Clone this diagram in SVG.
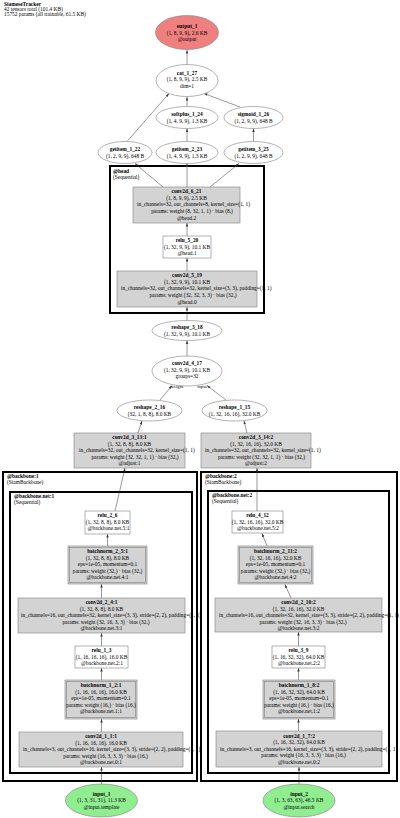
<svg xmlns="http://www.w3.org/2000/svg" width="400" height="818" viewBox="0 0 400 818">
<style>
text{font-family:"Liberation Serif","Times New Roman",serif;font-size:5.4px;fill:#000}
.b{font-weight:bold}
.m{text-anchor:middle}
.el{fill:#fff;stroke:#808080;stroke-width:0.6}
.bx{fill:#fff;stroke:#808080;stroke-width:0.6}
.g{fill:#d3d3d3}
.in{fill:none;stroke:#808080;stroke-width:0.6}
.cl{fill:none;stroke:#000;stroke-width:2}
.e{stroke:#333;stroke-width:0.5;fill:none;marker-end:url(#ah)}
.lbl{font-size:4.6px;text-anchor:middle}
</style>
<defs>
<marker id="ah" markerUnits="userSpaceOnUse" markerWidth="4" markerHeight="3" refX="3.5" refY="1.2" orient="auto"><path d="M0,0 L3.5,1.2 L0,2.4 z" fill="#333"/></marker>
</defs>
<rect width="400" height="818" fill="#fff"/>
<g id="title">
<text class="b" x="4" y="6">SiameseTracker</text>
<text x="4" y="11">42 tensors total (101.4 KB)</text>
<text x="4" y="16">15752 params (all trainable, 61.5 KB)</text>
</g>
<g id="clusters">
<rect class="cl" x="110" y="166" width="154" height="147"/>
<text class="b" x="113" y="173">@head</text>
<text x="113" y="178.5">(Sequential)</text>
<rect class="cl" x="3" y="472" width="194" height="309"/>
<text class="b" x="7" y="478">@backbone:1</text>
<text x="7" y="483.5">(SiamBackbone)</text>
<rect class="cl" x="10" y="492" width="182" height="281"/>
<text class="b" x="14" y="498">@backbone.net:1</text>
<text x="14" y="503.5">(Sequential)</text>
<rect class="cl" x="201" y="472" width="196" height="309"/>
<text class="b" x="205" y="478">@backbone:2</text>
<text x="205" y="483.5">(SiamBackbone)</text>
<rect class="cl" x="208" y="491" width="181" height="282"/>
<text class="b" x="212" y="497">@backbone.net:2</text>
<text x="212" y="502.5">(Sequential)</text>
</g>
<g id="edges">
<line class="e" x1="187" y1="64.5" x2="187" y2="50"/>
<line class="e" x1="187" y1="106.5" x2="187" y2="97"/>
<line class="e" x1="127" y1="141.5" x2="169" y2="93.5"/>
<line class="e" x1="240" y1="107" x2="204" y2="93.5"/>
<line class="e" x1="187" y1="141.5" x2="187" y2="128.5"/>
<line class="e" x1="253.5" y1="141.5" x2="253.5" y2="128.5"/>
<line class="e" x1="163" y1="187" x2="135" y2="163.5"/>
<line class="e" x1="187" y1="187" x2="187" y2="163.5"/>
<line class="e" x1="210" y1="187" x2="239" y2="163.5"/>
<line class="e" x1="187" y1="236" x2="187" y2="223"/>
<line class="e" x1="187" y1="271" x2="187" y2="258"/>
<line class="e" x1="187" y1="320.5" x2="187" y2="307"/>
<line class="e" x1="187" y1="356" x2="187" y2="340.5"/>
<line class="e" x1="160" y1="400" x2="172" y2="385.5"/>
<line class="e" x1="226" y1="400" x2="207" y2="385.5"/>
<text class="lbl" x="177" y="387.5">weight</text>
<text class="lbl" x="202" y="387.5">input</text>
<line class="e" x1="138" y1="433" x2="142" y2="421"/>
<line class="e" x1="247" y1="433" x2="244" y2="421"/>
<line class="e" x1="115" y1="511" x2="125" y2="468"/>
<line class="e" x1="257" y1="511" x2="257" y2="468"/>
<line class="e" x1="107.5" y1="546" x2="107.5" y2="534"/>
<line class="e" x1="267" y1="546" x2="262" y2="533.5"/>
<line class="e" x1="101.5" y1="598" x2="101.5" y2="584"/>
<line class="e" x1="291" y1="598" x2="285" y2="584.5"/>
<line class="e" x1="101.5" y1="646" x2="101.5" y2="633"/>
<line class="e" x1="298.5" y1="646" x2="298.5" y2="632"/>
<line class="e" x1="101.5" y1="680" x2="101.5" y2="668"/>
<line class="e" x1="298.5" y1="680" x2="298.5" y2="668"/>
<line class="e" x1="101.5" y1="732" x2="101.5" y2="719"/>
<line class="e" x1="298.5" y1="731" x2="298.5" y2="719"/>
<line class="e" x1="101.5" y1="784" x2="101.5" y2="767"/>
<line class="e" x1="299" y1="784" x2="299" y2="767"/>
</g>
<g id="output_1">
<ellipse class="el" cx="187" cy="32.5" rx="31.5" ry="17" style="fill:#f08080"/>
<text class="m b" x="187" y="28">output_1</text>
<text class="m" x="187" y="34.5">(1, 8, 9, 9), 2.6 KB</text>
<text class="m" x="187" y="41">@output</text>
</g>
<g id="cat_1_27">
<ellipse class="el" cx="187" cy="80.5" rx="31" ry="16"/>
<text class="m b" x="187" y="74.5">cat_1_27</text>
<text class="m" x="187" y="81">(1, 8, 9, 9), 2.5 KB</text>
<text class="m" x="187" y="87.5">dim=1</text>
</g>
<g id="softplus_1_24">
<ellipse class="el" cx="187" cy="117.5" rx="31" ry="11"/>
<text class="m b" x="187" y="116.2">softplus_1_24</text>
<text class="m" x="187" y="122.7">(1, 4, 9, 9), 1.3 KB</text>
</g>
<g id="sigmoid_1_26">
<ellipse class="el" cx="253.5" cy="117.5" rx="29.5" ry="11"/>
<text class="m b" x="253.5" y="116.2">sigmoid_1_26</text>
<text class="m" x="253.5" y="122.7">(1, 2, 9, 9), 648 B</text>
</g>
<g id="getitem_1_22">
<ellipse class="el" cx="125" cy="152.5" rx="27" ry="11"/>
<text class="m b" x="125" y="151.2">getitem_1_22</text>
<text class="m" x="125" y="157.7">(1, 2, 9, 9), 648 B</text>
</g>
<g id="getitem_2_23">
<ellipse class="el" cx="187" cy="152.5" rx="31" ry="11"/>
<text class="m b" x="187" y="151.2">getitem_2_23</text>
<text class="m" x="187" y="157.7">(1, 4, 9, 9), 1.3 KB</text>
</g>
<g id="getitem_3_25">
<ellipse class="el" cx="253.5" cy="152.5" rx="29.5" ry="11"/>
<text class="m b" x="253.5" y="151.2">getitem_3_25</text>
<text class="m" x="253.5" y="157.7">(1, 2, 9, 9), 648 B</text>
</g>
<g id="conv2d_6_21">
<rect class="bx g" x="133" y="187" width="107" height="36"/>
<text class="m b" x="186.5" y="193.2">conv2d_6_21</text>
<text class="m" x="186.5" y="199.8">(1, 8, 9, 9), 2.5 KB</text>
<text x="137" y="206.4">in_channels=32, out_channels=8, kernel_size=(1, 1)</text>
<text class="m" x="192" y="213">params: weight (8, 32, 1, 1) · bias (8,)</text>
<text class="m" x="186.5" y="219.6">@head.2</text>
</g>
<g id="relu_5_20">
<rect class="bx" x="163" y="236" width="48" height="22"/>
<text class="m b" x="187" y="242">relu_5_20</text>
<text class="m" x="187" y="248.5">(1, 32, 9, 9), 10.1 KB</text>
<text class="m" x="187" y="255">@head.1</text>
</g>
<g id="conv2d_5_19">
<rect class="bx g" x="117" y="271" width="140" height="36"/>
<text class="m b" x="187" y="277.2">conv2d_5_19</text>
<text class="m" x="187" y="283.8">(1, 32, 9, 9), 10.1 KB</text>
<text x="121" y="290.4">in_channels=32, out_channels=32, kernel_size=(3, 3), padding=(1, 1)</text>
<text class="m" x="193" y="297">params: weight (32, 32, 3, 3) · bias (32,)</text>
<text class="m" x="187" y="303.6">@head.0</text>
</g>
<g id="reshape_3_18">
<ellipse class="el" cx="187" cy="330.5" rx="35" ry="10"/>
<text class="m b" x="187" y="329.2">reshape_3_18</text>
<text class="m" x="187" y="335.7">(1, 32, 9, 9), 10.1 KB</text>
</g>
<g id="conv2d_4_17">
<ellipse class="el" cx="187" cy="371" rx="35" ry="15"/>
<text class="m b" x="187" y="365.3">conv2d_4_17</text>
<text class="m" x="187" y="371.8">(1, 32, 9, 9), 10.1 KB</text>
<text class="m" x="187" y="378.3">groups=32</text>
</g>
<g id="reshape_2_16">
<ellipse class="el" cx="149.5" cy="410.5" rx="32.5" ry="10.5"/>
<text class="m b" x="149.5" y="409.2">reshape_2_16</text>
<text class="m" x="149.5" y="415.7">(32, 1, 8, 8), 8.0 KB</text>
</g>
<g id="reshape_1_15">
<ellipse class="el" cx="234.5" cy="410.5" rx="32.5" ry="10.5"/>
<text class="m b" x="234.5" y="409.2">reshape_1_15</text>
<text class="m" x="234.5" y="415.7">(1, 32, 16, 16), 32.0 KB</text>
</g>
<g id="conv2d_3_13_1">
<rect class="bx g" x="74" y="433" width="111" height="35"/>
<text class="m b" x="129.5" y="439">conv2d_3_13:1</text>
<text class="m" x="129.5" y="445.5">(1, 32, 8, 8), 8.0 KB</text>
<text x="79" y="452">in_channels=32, out_channels=32, kernel_size=(1, 1)</text>
<text class="m" x="135" y="458.5">params: weight (32, 32, 1, 1) · bias (32,)</text>
<text class="m" x="129.5" y="465">@adjust:1</text>
</g>
<g id="conv2d_3_14_2">
<rect class="bx g" x="201" y="433" width="110" height="35"/>
<text class="m b" x="256" y="439">conv2d_3_14:2</text>
<text class="m" x="256" y="445.5">(1, 32, 16, 16), 32.0 KB</text>
<text x="205" y="452">in_channels=32, out_channels=32, kernel_size=(1, 1)</text>
<text class="m" x="261.5" y="458.5">params: weight (32, 32, 1, 1) · bias (32,)</text>
<text class="m" x="256" y="465">@adjust:2</text>
</g>
<g id="relu_2_6">
<rect class="bx" x="85" y="511" width="45" height="23"/>
<text class="m b" x="107.5" y="517">relu_2_6</text>
<text class="m" x="107.5" y="523.5">(1, 32, 8, 8), 8.0 KB</text>
<text class="m" x="108.5" y="530">@backbone.net.5:1</text>
</g>
<g id="relu_4_12">
<rect class="bx" x="232" y="511" width="51" height="22"/>
<text class="m b" x="257.5" y="517">relu_4_12</text>
<text class="m" x="257.5" y="523.5">(1, 32, 16, 16), 32.0 KB</text>
<text class="m" x="258" y="530">@backbone.net.5:2</text>
</g>
<g id="batchnorm_2_5_1">
<rect class="bx g" x="68" y="546" width="79" height="38"/>
<rect class="in" x="69.5" y="547.5" width="76" height="35"/>
<text class="m b" x="107.5" y="553">batchnorm_2_5:1</text>
<text class="m" x="107.5" y="559.5">(1, 32, 8, 8), 8.0 KB</text>
<text class="m" x="107.5" y="566">eps=1e-05, momentum=0.1</text>
<text class="m" x="107.5" y="572.5">params: weight (32,) · bias (32,)</text>
<text class="m" x="107.5" y="579">@backbone.net.4:1</text>
</g>
<g id="batchnorm_2_11_2">
<rect class="bx g" x="238" y="546" width="75" height="38"/>
<rect class="in" x="239.5" y="547.5" width="72" height="35"/>
<text class="m b" x="275.5" y="553">batchnorm_2_11:2</text>
<text class="m" x="275.5" y="559.5">(1, 32, 16, 16), 32.0 KB</text>
<text class="m" x="275.5" y="566">eps=1e-05, momentum=0.1</text>
<text class="m" x="275.5" y="572.5">params: weight (32,) · bias (32,)</text>
<text class="m" x="275.5" y="579">@backbone.net.4:2</text>
</g>
<g id="conv2d_2_4_1">
<rect class="bx g" x="18" y="598" width="167" height="35"/>
<text class="m b" x="101.5" y="604">conv2d_2_4:1</text>
<text class="m" x="101.5" y="610.5">(1, 32, 8, 8), 8.0 KB</text>
<text x="21" y="617">in_channels=16, out_channels=32, kernel_size=(3, 3), stride=(2, 2), padding=(1, 1)</text>
<text class="m" x="106" y="623.5">params: weight (32, 16, 3, 3) · bias (32,)</text>
<text class="m" x="101.5" y="630">@backbone.net.3:1</text>
</g>
<g id="conv2d_2_10_2">
<rect class="bx g" x="215" y="598" width="167" height="34"/>
<text class="m b" x="298.5" y="604">conv2d_2_10:2</text>
<text class="m" x="298.5" y="610.5">(1, 32, 16, 16), 32.0 KB</text>
<text x="219" y="617">in_channels=16, out_channels=32, kernel_size=(3, 3), stride=(2, 2), padding=(1, 1)</text>
<text class="m" x="303" y="623.5">params: weight (32, 16, 3, 3) · bias (32,)</text>
<text class="m" x="298.5" y="630">@backbone.net.3:2</text>
</g>
<g id="relu_1_3">
<rect class="bx" x="75" y="646" width="53" height="22"/>
<text class="m b" x="101.5" y="652">relu_1_3</text>
<text class="m" x="101.5" y="658.5">(1, 16, 16, 16), 16.0 KB</text>
<text class="m" x="102" y="665">@backbone.net.2:1</text>
</g>
<g id="relu_3_9">
<rect class="bx" x="272" y="646" width="53" height="22"/>
<text class="m b" x="298.5" y="652">relu_3_9</text>
<text class="m" x="298.5" y="658.5">(1, 16, 32, 32), 64.0 KB</text>
<text class="m" x="299" y="665">@backbone.net.2:2</text>
</g>
<g id="batchnorm_1_2_1">
<rect class="bx g" x="65" y="680" width="72" height="39"/>
<rect class="in" x="66.5" y="681.5" width="69" height="36"/>
<text class="m b" x="101" y="687">batchnorm_1_2:1</text>
<text class="m" x="101" y="693.5">(1, 16, 16, 16), 16.0 KB</text>
<text class="m" x="101" y="700">eps=1e-05, momentum=0.1</text>
<text class="m" x="101" y="706.5">params: weight (16,) · bias (16,)</text>
<text class="m" x="101" y="713">@backbone.net.1:1</text>
</g>
<g id="batchnorm_1_8_2">
<rect class="bx g" x="263" y="680" width="72" height="39"/>
<rect class="in" x="264.5" y="681.5" width="69" height="36"/>
<text class="m b" x="299" y="687">batchnorm_1_8:2</text>
<text class="m" x="299" y="693.5">(1, 16, 32, 32), 64.0 KB</text>
<text class="m" x="299" y="700">eps=1e-05, momentum=0.1</text>
<text class="m" x="299" y="706.5">params: weight (16,) · bias (16,)</text>
<text class="m" x="299" y="713">@backbone.net.1:2</text>
</g>
<g id="conv2d_1_1_1">
<rect class="bx g" x="19" y="732" width="164" height="35"/>
<text class="m b" x="101" y="738">conv2d_1_1:1</text>
<text class="m" x="101" y="744.5">(1, 16, 16, 16), 16.0 KB</text>
<text x="23" y="751">in_channels=3, out_channels=16, kernel_size=(3, 3), stride=(2, 2), padding=(1, 1)</text>
<text class="m" x="105.5" y="757.5">params: weight (16, 3, 3, 3) · bias (16,)</text>
<text class="m" x="101" y="764">@backbone.net.0:1</text>
</g>
<g id="conv2d_1_7_2">
<rect class="bx g" x="216" y="731" width="166" height="36"/>
<text class="m b" x="299" y="737.5">conv2d_1_7:2</text>
<text class="m" x="299" y="744">(1, 16, 32, 32), 64.0 KB</text>
<text x="220" y="750.5">in_channels=3, out_channels=16, kernel_size=(3, 3), stride=(2, 2), padding=(1, 1)</text>
<text class="m" x="303.5" y="757">params: weight (16, 3, 3, 3) · bias (16,)</text>
<text class="m" x="299" y="763.5">@backbone.net.0:2</text>
</g>
<g id="input_1">
<ellipse class="el" cx="101.5" cy="800.5" rx="36" ry="16.5" style="fill:#90ee90"/>
<text class="m b" x="101.5" y="795.5">input_1</text>
<text class="m" x="101.5" y="802">(1, 3, 31, 31), 11.3 KB</text>
<text class="m" x="101.5" y="808.5">@input.template</text>
</g>
<g id="input_2">
<ellipse class="el" cx="299" cy="800.5" rx="36" ry="16.5" style="fill:#90ee90"/>
<text class="m b" x="299" y="795.5">input_2</text>
<text class="m" x="299" y="802">(1, 3, 63, 63), 46.5 KB</text>
<text class="m" x="299" y="808.5">@input.search</text>
</g>
</svg>
